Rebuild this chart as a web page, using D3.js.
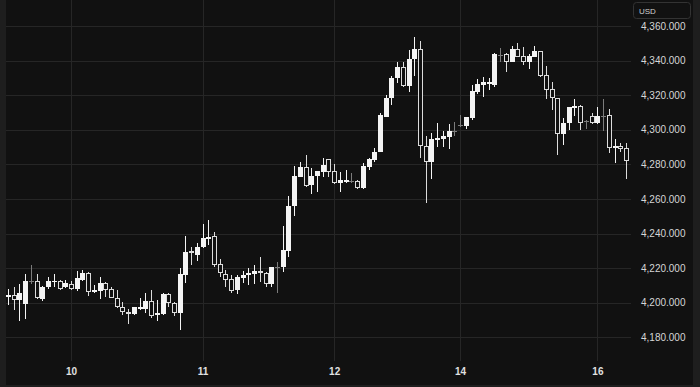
<!DOCTYPE html>
<html>
<head>
<meta charset="utf-8">
<script src="https://cdn.jsdelivr.net/npm/d3@7"></script>
<style>
  html, body { margin: 0; padding: 0; background: #1e1e1e; }
  svg { display: block; }
  text { font-family: "Liberation Sans", Arial, sans-serif; }
</style>
</head>
<body>
<svg></svg>
<script>
const size = {w: 700, h: 387};
const plot = {l: 6, t: 0, r: 693, b: 385};
const svg = d3.select('svg')
    .attr('width', size.w)
    .attr('height', size.h);

// hourly candles
const opens = [4203.3, 4204.5, 4201.6, 4199.3, 4212.5, 4212.6, 4202.0, 4209.3, 4212.0, 4212.6,
    4209.3, 4210.7, 4207.8, 4213.2, 4217.0, 4206.2, 4207.0, 4211.6, 4208.0, 4203.0,
    4197.7, 4194.7, 4193.5, 4196.4, 4196.4, 4201.0, 4193.0, 4193.5, 4205.1, 4199.7,
    4193.9, 4216.0, 4229.9, 4227.6, 4232.4, 4237.1, 4238.6, 4222.2, 4216.6, 4213.6,
    4207.4, 4214.5, 4215.9, 4216.6, 4218.5, 4217.0, 4210.8, 4220.9, 4220.5, 4230.1,
    4255.9, 4272.9, 4278.3, 4268.1, 4273.3, 4275.8, 4282.9, 4276.2, 4269.4, 4269.8,
    4270.4, 4270.6, 4266.2, 4278.6, 4282.5, 4287.1, 4307.5, 4318.2, 4329.7, 4336.1,
    4325.5, 4340.7, 4346.7, 4290.6, 4281.5, 4294.1, 4294.8, 4296.0, 4299.3, 4302.6,
    4302.3, 4306.6, 4321.6, 4325.9, 4326.3, 4325.9, 4343.5, 4343.8, 4339.0, 4346.7,
    4342.6, 4339.0, 4342.2, 4345.5, 4331.6, 4323.4, 4318.2, 4297.5, 4304.1, 4312.4,
    4313.7, 4305.2, 4307.9, 4303.7, 4308.1, 4308.5, 4289.3, 4290.6, 4289.3];
const highs = [4207.8, 4209.3, 4210.8, 4216.8, 4221.8, 4216.6, 4209.5, 4214.9, 4216.6, 4213.2,
    4213.2, 4212.6, 4218.4, 4219.0, 4217.6, 4210.1, 4214.7, 4212.2, 4209.3, 4207.4,
    4200.6, 4196.4, 4197.7, 4202.5, 4205.4, 4207.4, 4201.6, 4205.5, 4205.5, 4200.6,
    4219.9, 4238.8, 4232.4, 4234.4, 4245.4, 4247.8, 4241.1, 4225.1, 4219.0, 4216.0,
    4216.0, 4218.5, 4219.9, 4221.8, 4226.3, 4218.0, 4220.9, 4223.7, 4244.5, 4261.7,
    4279.0, 4281.5, 4285.4, 4277.7, 4276.2, 4283.5, 4283.3, 4280.2, 4275.8, 4276.7,
    4274.8, 4271.0, 4280.6, 4283.5, 4289.3, 4309.5, 4320.1, 4331.1, 4339.0, 4339.0,
    4346.1, 4353.4, 4351.3, 4296.4, 4298.0, 4303.7, 4299.5, 4303.2, 4304.3, 4308.5,
    4307.5, 4325.9, 4329.2, 4330.7, 4329.7, 4344.2, 4347.1, 4344.2, 4348.6, 4350.0,
    4347.7, 4343.8, 4348.4, 4345.5, 4336.9, 4327.8, 4318.2, 4306.6, 4313.3, 4317.6,
    4314.3, 4305.6, 4309.5, 4313.0, 4317.8, 4311.8, 4294.7, 4292.2, 4292.2];
const lows = [4198.7, 4195.8, 4189.5, 4190.6, 4210.8, 4202.2, 4201.2, 4208.0, 4209.3, 4207.4,
    4208.5, 4207.4, 4207.0, 4212.6, 4203.9, 4205.8, 4202.0, 4203.3, 4202.6, 4196.8,
    4192.9, 4187.9, 4192.8, 4195.5, 4193.9, 4191.2, 4189.5, 4193.0, 4197.6, 4192.5,
    4184.3, 4211.6, 4221.8, 4224.3, 4231.8, 4233.4, 4220.5, 4214.9, 4209.0, 4205.8,
    4204.9, 4211.3, 4210.3, 4210.7, 4212.2, 4209.0, 4209.0, 4205.5, 4218.0, 4226.6,
    4250.2, 4272.5, 4266.7, 4262.9, 4264.2, 4272.9, 4272.5, 4268.8, 4264.2, 4269.1,
    4269.1, 4265.8, 4266.0, 4276.7, 4281.5, 4287.0, 4307.2, 4314.3, 4327.2, 4324.9,
    4321.6, 4331.2, 4283.8, 4257.5, 4271.4, 4290.2, 4290.2, 4288.9, 4296.4, 4301.8,
    4300.3, 4305.6, 4320.7, 4319.1, 4323.0, 4324.9, 4339.3, 4333.2, 4339.0, 4341.9,
    4337.4, 4335.1, 4341.9, 4330.7, 4317.6, 4311.4, 4285.4, 4291.2, 4299.9, 4307.9,
    4299.9, 4300.4, 4303.2, 4303.2, 4299.5, 4286.4, 4280.6, 4287.0, 4271.5];
const closes = [4204.5, 4201.6, 4205.5, 4212.8, 4212.5, 4202.8, 4209.3, 4212.8, 4212.8, 4208.0,
    4211.3, 4208.0, 4214.1, 4217.4, 4206.2, 4207.4, 4211.6, 4207.4, 4203.0, 4197.6,
    4194.4, 4193.5, 4197.4, 4197.6, 4201.0, 4192.4, 4194.1, 4205.1, 4199.7, 4193.9,
    4216.6, 4229.5, 4228.6, 4232.4, 4237.6, 4238.2, 4221.8, 4217.0, 4213.2, 4207.0,
    4214.7, 4216.0, 4217.0, 4218.5, 4217.0, 4210.8, 4220.5, 4220.9, 4230.5, 4255.9,
    4273.3, 4278.6, 4267.5, 4273.4, 4276.2, 4279.6, 4275.8, 4269.1, 4271.0, 4271.0,
    4270.4, 4266.2, 4279.0, 4282.9, 4287.3, 4308.5, 4318.2, 4330.1, 4336.4, 4325.5,
    4340.7, 4346.7, 4290.6, 4281.5, 4294.5, 4295.4, 4296.4, 4299.5, 4299.3, 4302.6,
    4307.2, 4322.4, 4326.3, 4327.4, 4327.4, 4343.8, 4343.5, 4339.0, 4346.7, 4341.9,
    4339.0, 4342.6, 4345.7, 4331.1, 4323.0, 4318.2, 4297.5, 4304.1, 4313.0, 4313.7,
    4304.1, 4305.2, 4303.7, 4307.9, 4308.1, 4289.3, 4290.6, 4288.9, 4282.1];

// day labels sit on the first candle of each session
const dayLabels = ['10', '11', '12', '14', '16'];
const dayIndex = [11, 34, 57, 79, 103];
const priceTicks = [4180, 4200, 4220, 4240, 4260, 4280, 4300, 4320, 4340, 4360];

const candles = opens.map((o, i) => ({i: i, o: o, h: highs[i], l: lows[i], c: closes[i]}));

const x = d3.scaleLinear()
    .domain([0, candles.length - 1])
    .range([8, 626]);

const y = d3.scaleLinear()
    .domain([4180, 4360])
    .range([337.3, 26]);

// panel background
svg.append('rect')
    .attr('x', plot.l).attr('y', plot.t)
    .attr('width', plot.r - plot.l).attr('height', plot.b - plot.t)
    .attr('fill', '#111111');

const gridColor = '#262626';
const gridRight = 631, gridBottom = 361;

// horizontal grid
svg.append('g')
    .selectAll('line')
    .data(priceTicks)
    .enter()
    .append('line')
    .attr('x1', plot.l).attr('x2', gridRight)
    .attr('y1', d => Math.round(y(d)) + 0.5)
    .attr('y2', d => Math.round(y(d)) + 0.5)
    .attr('stroke', gridColor);

// vertical grid
svg.append('g')
    .selectAll('line')
    .data(dayIndex)
    .enter()
    .append('line')
    .attr('x1', d => Math.round(x(d)) + 0.5)
    .attr('x2', d => Math.round(x(d)) + 0.5)
    .attr('y1', plot.t).attr('y2', gridBottom)
    .attr('stroke', gridColor);

// candles
const upColor = '#f4f4f4', downColor = '#dcdcdc', flatColor = '#7c7c7c';
const bodyW = 5;

function candleColor (d) {
    if (d.c === d.o) return flatColor;
    return d.c > d.o ? upColor : downColor;
}

const cg = svg.append('g')
    .attr('shape-rendering', 'crispEdges')
    .selectAll('g')
    .data(candles)
    .enter()
    .append('g');

cg.append('line')
    .attr('x1', d => Math.round(x(d.i)) + 0.5)
    .attr('x2', d => Math.round(x(d.i)) + 0.5)
    .attr('y1', d => y(d.h))
    .attr('y2', d => y(d.l))
    .attr('stroke', candleColor);

cg.append('rect')
    .attr('x', d => {
        let cx = Math.round(x(d.i)) - 2;
        return d.c < d.o ? cx + 0.5 : cx;
    })
    .attr('y', d => {
        let top = Math.round(y(Math.max(d.o, d.c)));
        return d.c < d.o ? top + 0.5 : top;
    })
    .attr('width', d => d.c < d.o ? bodyW - 1 : bodyW)
    .attr('height', d => {
        let hgt = Math.max(Math.round(y(Math.min(d.o, d.c))) - Math.round(y(Math.max(d.o, d.c))), 1);
        return d.c < d.o ? Math.max(hgt - 1, 1) : (d.c === d.o ? 1 : hgt);
    })
    .attr('fill', d => d.c < d.o ? '#111111' : candleColor(d))
    .attr('stroke', d => d.c < d.o ? downColor : 'none');

// price axis
const yAxis = d3.axisRight(y)
    .tickValues(priceTicks)
    .tickSize(0)
    .tickPadding(10)
    .tickFormat(d3.format(',.3f'));

svg.append('g')
    .attr('transform', 'translate(' + gridRight + ',0)')
    .call(yAxis)
    .call(g => g.select('.domain').remove())
    .selectAll('text')
    .attr('fill', '#d6d6d6')
    .style('font-size', '10px');

// time axis
const xAxis = d3.axisBottom(x)
    .tickValues(dayIndex)
    .tickSize(0)
    .tickPadding(6)
    .tickFormat((d, i) => dayLabels[i]);

svg.append('g')
    .attr('transform', 'translate(0,' + (gridBottom + 1) + ')')
    .call(xAxis)
    .call(g => g.select('.domain').remove())
    .selectAll('text')
    .attr('fill', '#e0e0e0')
    .style('font-size', '10px')
    .style('font-weight', 'bold');

// currency badge
svg.append('rect')
    .attr('x', 633.5).attr('y', 2.5)
    .attr('width', 57).attr('height', 16)
    .attr('rx', 3)
    .attr('fill', '#111111')
    .attr('stroke', '#333333');

svg.append('text')
    .attr('x', 639).attr('y', 13.5)
    .attr('fill', '#cfcfcf')
    .style('font-size', '8px')
    .text('USD');
</script>
</body>
</html>
